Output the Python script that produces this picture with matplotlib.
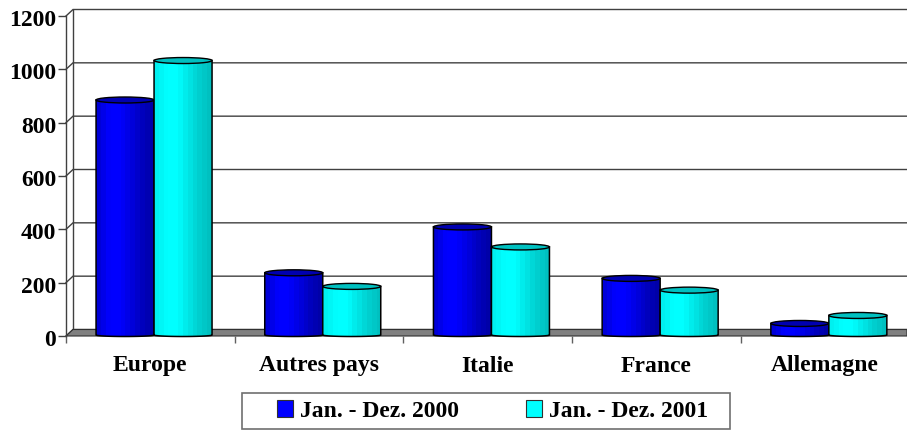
import numpy as np
import matplotlib
matplotlib.use("Agg")
import matplotlib.pyplot as plt
from matplotlib.patches import Ellipse, Rectangle, Polygon
from matplotlib.colors import LinearSegmentedColormap
from matplotlib.transforms import ScaledTranslation

categories = ["Europe", "Autres pays", "Italie", "France", "Allemagne"]
series_2000 = [885, 237, 409, 216, 47]
series_2001 = [1033, 186, 334, 172, 77]
series_names = ["Jan. - Dez. 2000", "Jan. - Dez. 2001"]
y_ticks = [0, 200, 400, 600, 800, 1000, 1200]

plt.rcParams['font.family'] = ['Liberation Serif', 'DejaVu Serif']
plt.rcParams['font.weight'] = 'bold'

W, H = 907, 430
FS = 17
fig = plt.figure(figsize=(W / 100, H / 100), dpi=100)
L, R, T, B = 66, 907, 16, 336
ax = fig.add_axes([L / W, 1 - B / H, (R - L) / W, (B - T) / H])
px = 1 / 168.7             # data units per horizontal pixel
py = 1200 / (B - T)        # data units per vertical pixel
xmax = (R - L) * px
ax.patch.set_alpha(0)
for s in ax.spines.values():
    s.set_visible(False)
ax.spines['left'].set_visible(True)
ax.spines['left'].set_color('#404040')
ax.spines['left'].set_linewidth(1.0)

dx, dy = 7 * px, 6.5 * py   # depth offset of the back wall

# back wall, grid, floor
for v in y_ticks:
    ax.plot([0, dx, xmax], [v, v + dy, v + dy], color='#404040', lw=1.0, clip_on=False,
            zorder=1, solid_joinstyle='miter')
ax.plot([dx, dx], [dy, 1200 + dy], color='#404040', lw=1.0, clip_on=False, zorder=1)
ax.add_patch(Polygon([[0, 0], [dx, dy], [xmax, dy], [xmax, 0]], closed=True, fc='#808080',
                     ec='#303030', lw=0.8, clip_on=False, zorder=1.5))

ax.set_yticks(y_ticks)
ax.set_xticks(np.arange(5))
ax.set_xticklabels([])
ax.tick_params(axis='y', length=6, width=1, color='#404040', labelsize=FS, pad=1)
ax.tick_params(axis='x', length=5, width=1, color='#606060')
shift = ScaledTranslation(0, -2 / 100, fig.dpi_scale_trans)
for lab in ax.get_yticklabels():
    lab.set_transform(lab.get_transform() + shift)
for i, c in enumerate(categories):
    ax.text(i + 0.5, -30 * py, c, ha='center', va='center', fontsize=FS,
            fontweight='bold', color='black')

blue = LinearSegmentedColormap.from_list('b', ['#0000d8', '#0000ff', '#0000ff', '#0000e0', '#0000c0', '#0000a8'])
cyan = LinearSegmentedColormap.from_list('c', ['#00f0f0', '#00ffff', '#00ffff', '#00e6e6', '#00d0d0', '#00c0c0'])
grad = np.linspace(0, 1, 12).reshape(1, -1)
bw = 58 * px
eh = 6 * py


def cylinder(x0, v, cmap, top, z):
    x1 = x0 + bw
    base = -0.5 * py
    xs = np.linspace(x0, x1, 80)
    half = eh / 4
    yb = base + half - half * np.sqrt(np.clip(1 - ((xs - (x0 + x1) / 2) / (bw / 2)) ** 2, 0, 1))
    verts = np.vstack([np.c_[xs, yb], [[x1, v], [x0, v]]])
    body = Polygon(verts, closed=True, fc='none', ec='black', lw=1.1, zorder=z + 0.2, clip_on=False)
    ax.add_patch(body)
    im = ax.imshow(grad, cmap=cmap, extent=[x0, x1, base - half, v], aspect='auto', zorder=z,
                   interpolation='nearest')
    im.set_clip_path(body)
    ax.add_patch(Ellipse(((x0 + x1) / 2, v), bw, eh, fc=top, ec='black', lw=1.0,
                         zorder=z + 0.3, clip_on=False))


for i in range(5):
    c = i + 0.5 + 3.7 * px
    cylinder(c - bw, series_2000[i], blue, '#0000b0', 3)
    cylinder(c, series_2001[i], cyan, '#00c0c0', 4)

ax.set_xlim(0, xmax)
ax.set_ylim(0, 1200)

fig.add_artist(Rectangle((242 / W, 1 - 429 / H), 488 / W, 36 / H, transform=fig.transFigure,
                         fc='white', ec='#707070', lw=1.2))
handles = [Rectangle((0, 0), 1, 1, fc='#0000ff', ec='#303030', lw=0.8),
           Rectangle((0, 0), 1, 1, fc='#00ffff', ec='#303030', lw=0.8)]
leg = fig.legend(handles, series_names, ncol=2, loc='center',
                 bbox_to_anchor=(492.5 / W, 1 - 411 / H), frameon=False,
                 handlelength=0.68, handleheight=0.68, handletextpad=0.3,
                 columnspacing=2.84, borderpad=0, borderaxespad=0,
                 prop={'family': 'Liberation Serif', 'weight': 'bold', 'size': FS})

fig.savefig("out.png", dpi=100)
